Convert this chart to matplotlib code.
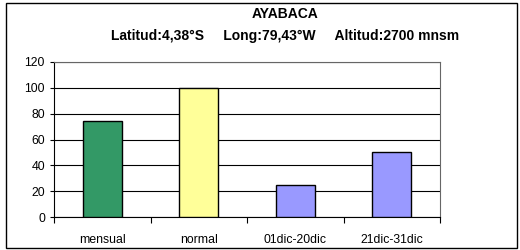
import numpy as np
import matplotlib.pyplot as plt
from matplotlib.patches import Rectangle

# data
categorias = ["mensual", "normal", "01dic-20dic", "21dic-31dic"]
valores = [74, 100, 25, 50]
colores = ["#339966", "#FFFF99", "#9999FF", "#9999FF"]
yticks = [0, 20, 40, 60, 80, 100, 120]

plt.rcParams['font.family'] = ['Liberation Sans', 'DejaVu Sans']

fig = plt.figure(figsize=(5.2, 2.5), dpi=100)
ax = fig.add_axes([54/520, 1 - 217/250, (440-54)/520, (217-62)/250])

x = np.arange(len(categorias))
ax.bar(x, valores, width=0.4, color=colores, edgecolor="black", linewidth=1.0, zorder=3)

ax.set_xlim(-0.5, len(categorias) - 0.5)
ax.set_ylim(0, 120)
ax.set_yticks(yticks)
ax.tick_params(axis="y", labelsize=8.8, length=3, direction="out", width=0.8)
ax.yaxis.grid(True, color="black", linewidth=0.8, zorder=0)

# category labels without ticks, separator ticks between categories
ax.set_xticks(x)
ax.set_xticklabels(categorias, fontsize=8.8)
ax.tick_params(axis="x", length=0, pad=12)
ax.set_xticks(np.arange(-0.5, len(categorias)), minor=True)
ax.tick_params(axis="x", which="minor", length=4, width=0.8, direction="out")

ax.spines["left"].set_color("black")
ax.spines["bottom"].set_color("black")
ax.spines["top"].set_color("#666666")
ax.spines["right"].set_color("#666666")
for s in ax.spines.values():
    s.set_linewidth(0.8)

fig.text(285/520, 1 - 14/250, "AYABACA", ha="center", va="center",
         fontsize=10, fontweight="bold")
fig.text(285/520, 1 - 36/250,
         "Latitud:4,38°S     Long:79,43°W     Altitud:2700 mnsm",
         ha="center", va="center", fontsize=10, fontweight="bold")

# outer border
fig.patches.append(Rectangle((6/520, 2/250), 511/520, 245/250, transform=fig.transFigure,
                             fill=False, edgecolor="black", linewidth=1.0))

fig.savefig("out.png", dpi=100)
